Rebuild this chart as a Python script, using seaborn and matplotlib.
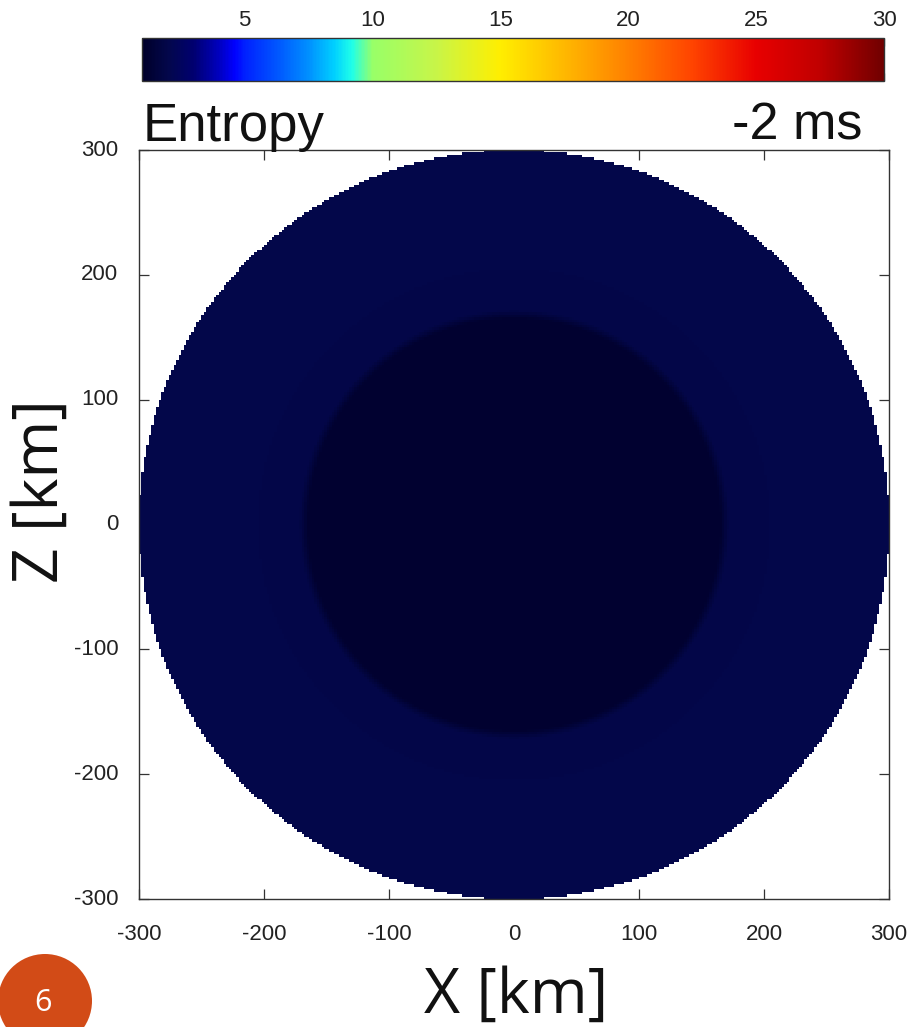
import numpy as np
import pandas as pd
import matplotlib
matplotlib.use("Agg")
import matplotlib.pyplot as plt
import seaborn as sns
from matplotlib.colors import LinearSegmentedColormap
from matplotlib.patches import Circle

# ---- data ----
# radial entropy profile of the star (km, kB/baryon)
profile_radius_km = [0, 165, 172, 300]
profile_entropy = [1.2, 1.2, 1.95, 2.0]
star_radius_km = 300
x_ticks = [-300, -200, -100, 0, 100, 200, 300]
z_ticks = [-300, -200, -100, 0, 100, 200, 300]
cbar_ticks = [5, 10, 15, 20, 25, 30]
cbar_range = [1, 30]
title_left = "Entropy"
title_right = "-2 ms"
slide_number = "6"

# colour palette stops (value, colour)
pal_values = [1.0, 2.0, 3.0, 4.0, 4.6, 5.0, 6.5, 7.5, 8.5, 9.2, 10.0, 12.5, 15.0,
              17.5, 20.0, 22.5, 25.0, 27.5, 30.0]
pal_colors = ["#00002a", "#03074b", "#000070", "#0000c0", "#0000ff", "#0020ff",
              "#0060ff", "#0090ff", "#00d0ff", "#20ffe8", "#98ff68", "#c8f548",
              "#ffee00", "#ffb800", "#ff8000", "#ff4400", "#e80000", "#c00000",
              "#700000"]

# ---- build field on grid ----
N = 300
edges = np.linspace(-300, 300, N + 1)
centers = 0.5 * (edges[:-1] + edges[1:])
xx, zz = np.meshgrid(centers, centers[::-1])
rr = np.hypot(xx, zz)
field = np.interp(rr, profile_radius_km, profile_entropy)
field[rr > star_radius_km] = np.nan
df = pd.DataFrame(field, index=centers[::-1], columns=centers)

vmin, vmax = cbar_range
cmap = LinearSegmentedColormap.from_list(
    "entropy", [((v - vmin) / (vmax - vmin), c) for v, c in zip(pal_values, pal_colors)], N=512)

sns.set_theme(style="white")
plt.rcParams['font.family'] = ['Liberation Sans', 'DejaVu Sans']

W, H = 912, 1027
fig = plt.figure(figsize=(W / 100, H / 100), dpi=100)
ax = fig.add_axes([139 / W, (H - 899) / H, 750 / W, 749 / H])
cax = fig.add_axes([142 / W, (H - 81) / H, 742 / W, 43 / H])

sns.heatmap(df, ax=ax, cmap=cmap, vmin=vmin, vmax=vmax, cbar_ax=cax,
            cbar_kws=dict(orientation="horizontal", ticks=cbar_ticks),
            xticklabels=False, yticklabels=False, linewidths=0, rasterized=True)
ax.set_facecolor("white")
ax.set_xlabel("")
ax.set_ylabel("")

step = 600 / N
ax.set_xticks([(v + 300) / step for v in x_ticks])
ax.set_xticklabels([str(v) for v in x_ticks], rotation=0)
ax.set_yticks([(300 - v) / step for v in z_ticks])
ax.set_yticklabels([str(v) for v in z_ticks], rotation=0, va="center")
for s in ax.spines.values():
    s.set_visible(True)
    s.set_color("#333333")
    s.set_linewidth(1.0)
ax.tick_params(axis="both", direction="in", length=7.5, width=0.9, color="#333333",
               top=True, right=True, bottom=True, left=True, labelsize=16,
               labelcolor="#222222")
ax.tick_params(axis="x", pad=18)
ax.tick_params(axis="y", pad=15)

cb = ax.collections[0].colorbar
cb.outline.set_visible(True)
cb.outline.set_linewidth(1.0)
cb.outline.set_edgecolor("#333333")
cax.xaxis.set_ticks_position("both")
cax.tick_params(axis="x", direction="in", length=6, width=0.9, color="#333333",
                top=True, bottom=True, labeltop=True, labelbottom=False,
                labelsize=16, labelcolor="#222222", pad=5)
cb.set_ticklabels([str(t) for t in cbar_ticks])

fig.text(143 / W, 1 - 141 / H, title_left, fontsize=38, va="baseline", ha="left",
         color="#111111")
fig.text(862 / W, 1 - 140 / H, title_right, fontsize=37.5, va="baseline", ha="right",
         color="#111111")

fig.text(516 / W, 1 - 1013 / H, "X [km]", fontsize=45, va="baseline", ha="center",
         family=["Open Sans", "DejaVu Sans"], color="#111111")
fig.text(42 / W, 1 - 491 / H, "Z [km]", fontsize=45, va="center", ha="center",
         rotation=90, family=["Open Sans", "DejaVu Sans"], color="#111111")

circ = Circle((45 / 100, (H - 1001) / 100), 0.47, transform=fig.dpi_scale_trans,
              facecolor="#d24b17", edgecolor="none", clip_on=False)
fig.patches.append(circ)
fig.text(43 / W, 1 - 1003 / H, slide_number, fontsize=22, va="center", ha="center",
         color="white", family=["Open Sans", "DejaVu Sans"])

fig.savefig("out.png", dpi=100)
